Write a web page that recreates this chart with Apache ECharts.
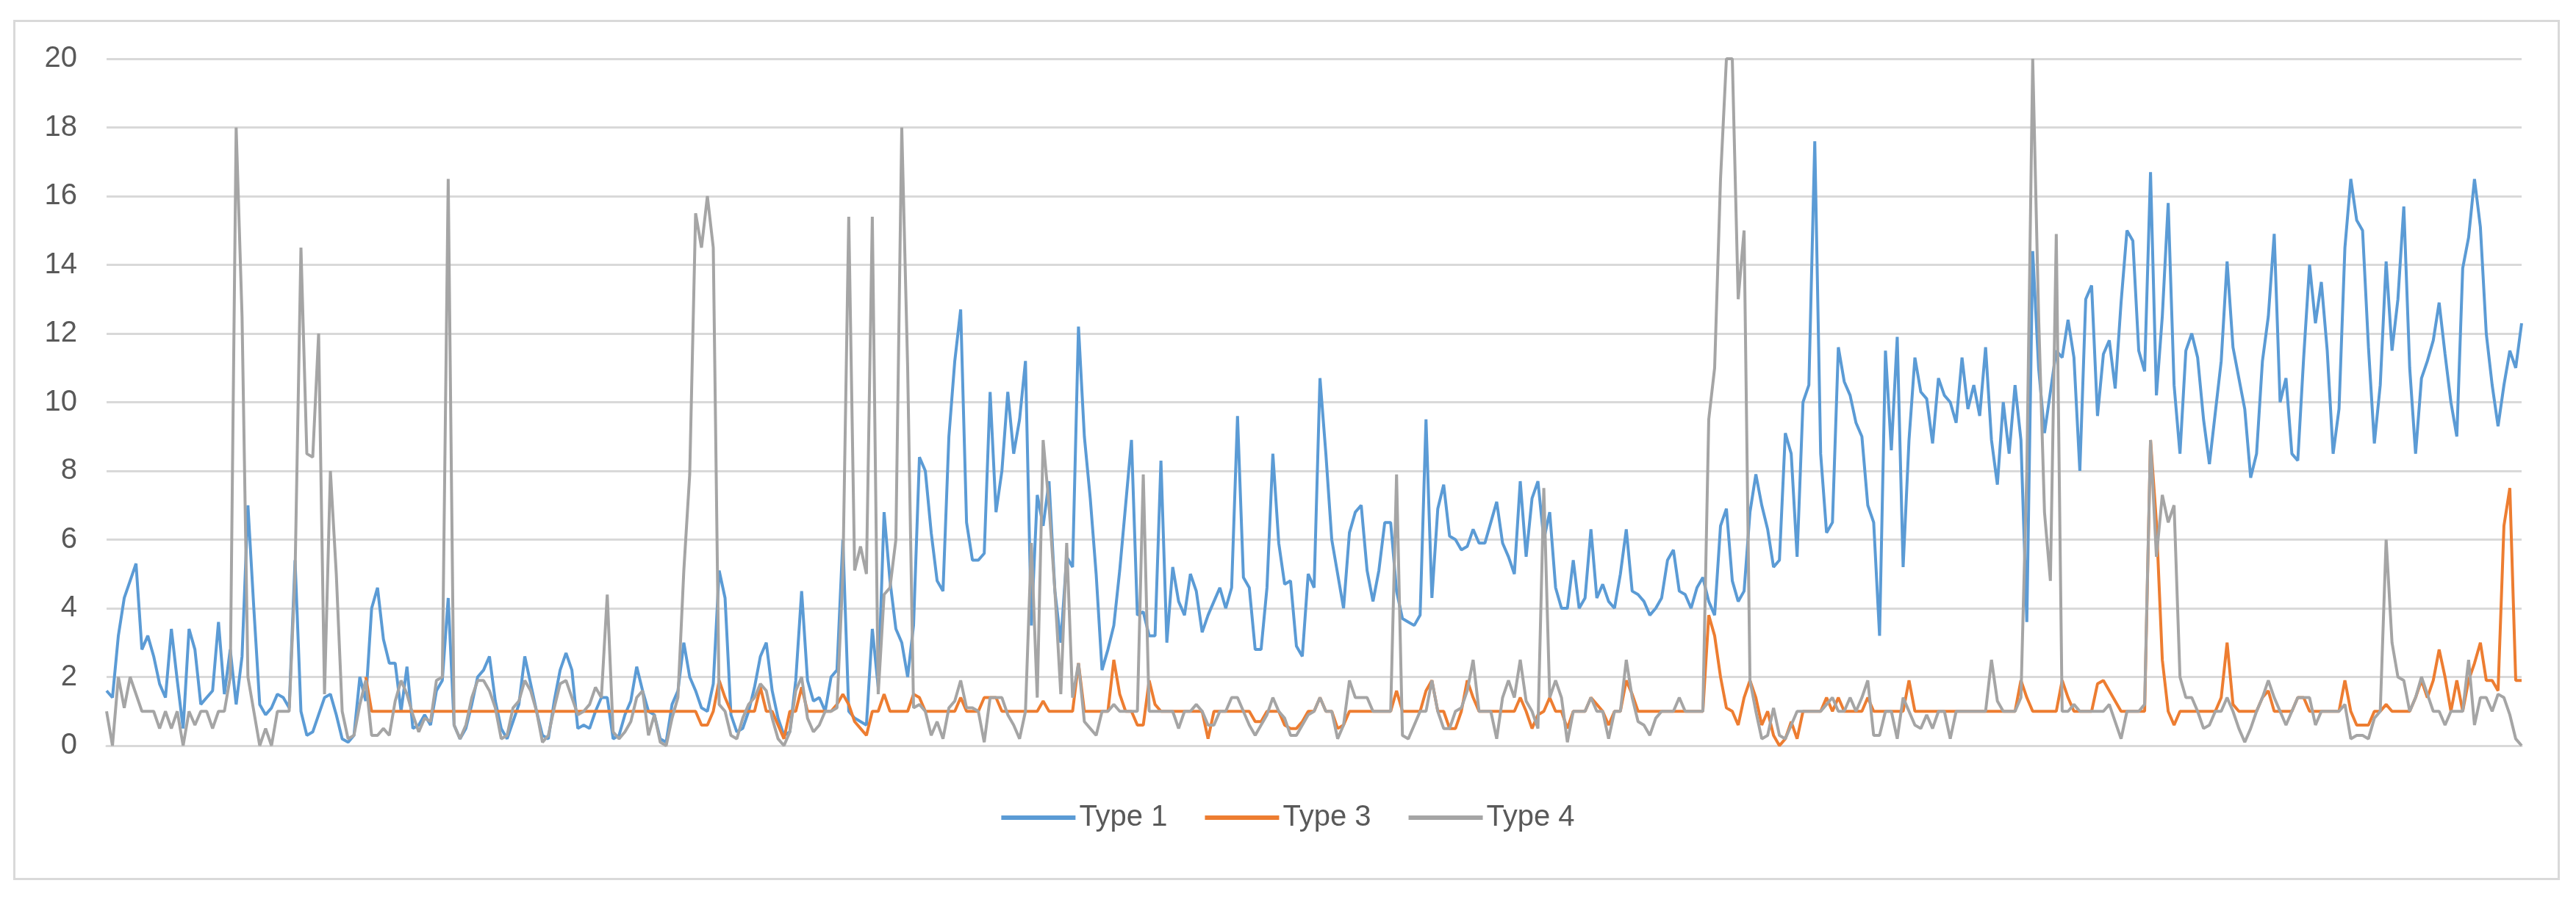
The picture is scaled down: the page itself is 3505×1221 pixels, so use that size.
<!DOCTYPE html>
<html><head><meta charset="utf-8">
<script src="https://cdn.jsdelivr.net/npm/echarts@6/dist/echarts.min.js"></script>
<style>
html,body{margin:0;padding:0;background:#fff;}
#frame{position:absolute;left:18px;top:27px;width:3459px;height:1165px;border:3px solid #d9d9d9;}
#chart{position:absolute;left:0;top:0;width:3505px;height:1221px;}
</style></head>
<body>
<div id="frame"></div>
<div id="chart"></div>
<script>
const seriesNames = ['Type 1', 'Type 3', 'Type 4'];
const yTicks = { min: 0, max: 20, step: 2 };

const type1 = [
1.6,1.4,3.2,4.3,4.8,5.3,2.8,3.2,2.6,1.8,
1.4,3.4,1.9,0.5,3.4,2.8,1.2,1.4,1.6,3.6,
1.5,2.8,1.2,2.6,7.0,4.0,1.2,0.9,1.1,1.5,
1.4,1.1,5.4,1.0,0.3,0.4,0.9,1.4,1.5,0.9,
0.2,0.1,0.3,2.0,1.3,4.0,4.6,3.1,2.4,2.4,
1.0,2.3,0.5,0.6,0.9,0.6,1.6,1.9,4.3,0.6,
0.2,0.5,1.2,2.0,2.2,2.6,1.3,0.5,0.2,0.7,
1.2,2.6,1.8,1.0,0.3,0.2,1.3,2.2,2.7,2.2,
0.5,0.6,0.5,1.0,1.4,1.4,0.2,0.3,0.9,1.3,
2.3,1.6,1.0,0.9,0.2,0.1,1.2,1.6,3.0,2.0,
1.6,1.1,1.0,1.8,5.1,4.3,0.9,0.4,0.5,1.0,
1.7,2.6,3.0,1.6,0.8,0.3,0.4,1.9,4.5,1.9,
1.3,1.4,1.0,2.0,2.2,6.0,1.0,0.8,0.7,0.6,
3.4,1.7,6.8,4.8,3.4,3.0,2.0,3.5,8.4,8.0,
6.2,4.8,4.5,9.0,11.2,12.7,6.5,5.4,5.4,5.6,
10.3,6.8,8.0,10.3,8.5,9.5,11.2,3.5,7.3,6.4,
7.7,4.5,3.0,5.5,5.2,12.2,9.0,7.2,5.0,2.2,
2.8,3.5,5.1,7.0,8.9,3.8,3.9,3.2,3.2,8.3,
3.0,5.2,4.2,3.8,5.0,4.5,3.3,3.8,4.2,4.6,
4.0,4.6,9.6,4.9,4.6,2.8,2.8,4.6,8.5,5.9,
4.7,4.8,2.9,2.6,5.0,4.6,10.7,8.5,6.0,5.0,
4.0,6.2,6.8,7.0,5.1,4.2,5.1,6.5,6.5,4.5,
3.7,3.6,3.5,3.8,9.5,4.3,6.9,7.6,6.1,6.0,
5.7,5.8,6.3,5.9,5.9,6.5,7.1,5.9,5.5,5.0,
7.7,5.5,7.2,7.7,6.0,6.8,4.6,4.0,4.0,5.4,
4.0,4.3,6.3,4.3,4.7,4.2,4.0,5.0,6.3,4.5,
4.4,4.2,3.8,4.0,4.3,5.4,5.7,4.5,4.4,4.0,
4.6,4.9,4.2,3.8,6.4,6.9,4.8,4.2,4.5,6.8,
7.9,7.0,6.3,5.2,5.4,9.1,8.5,5.5,10.0,10.5,
17.6,8.5,6.2,6.5,11.6,10.6,10.2,9.4,9.0,7.0,
6.5,3.2,11.5,8.6,11.9,5.2,8.9,11.3,10.3,10.1,
8.8,10.7,10.2,10.0,9.4,11.3,9.8,10.5,9.6,11.6,
8.9,7.6,10.0,8.5,10.5,8.9,3.6,14.4,11.0,9.1,
10.3,11.5,11.3,12.4,11.3,8.0,13.0,13.4,9.6,11.4,
11.8,10.4,12.9,15.0,14.7,11.5,10.9,16.7,10.2,12.5,
15.8,10.5,8.5,11.5,12.0,11.3,9.5,8.2,9.7,11.2,
14.1,11.6,10.7,9.8,7.8,8.5,11.2,12.5,14.9,10.0,
10.7,8.5,8.3,11.3,14.0,12.3,13.5,11.5,8.5,9.8,
14.5,16.5,15.3,15.0,11.6,8.8,10.5,14.1,11.5,13.0,
15.7,11.0,8.5,10.7,11.2,11.8,12.9,11.4,10.0,9.0,
13.9,14.8,16.5,15.1,12.0,10.5,9.3,10.5,11.5,11.0,12.3
];

const type3 = [
null,null,null,null,null,null,null,null,null,null,
null,null,null,null,null,null,null,null,null,null,
null,null,null,null,null,null,null,null,null,null,
null,null,null,null,null,null,null,null,null,null,
null,null,null,null,2.0,1,1,1,1,1,
1,1,1,1,1,1,1,1,1,1,
1,1,1,1,1,1,1,1,1,1,
1,1,1,1,1,1,1,1,1,1,
1,1,1,1,1,1,1,1,1,1,
1,1,1,1,1,1,1,1,1,1,
1,0.6,0.6,1,1.9,1.4,1,1,1,1,
1,1.7,1,1,0.6,0.2,1,1,1.7,1,
1,1,1,1,1.2,1.5,1.2,0.7,0.5,0.3,
1,1,1.5,1,1,1,1,1.5,1.4,1,
1,1,1,1,1,1.4,1,1,1,1.4,
1.4,1.4,1,1,1,1,1,1,1,1.3,
1,1,1,1,1,2.4,1,1,1,1,
1,2.5,1.5,1,1,0.6,0.6,1.9,1.2,1,
1,1,1,1,1,1,1,0.2,1,1,
1,1,1,1,1,0.7,0.7,1,1,1,
0.6,0.5,0.5,0.7,1,1,1.4,1,1,0.5,
0.6,1,1,1,1,1,1,1,1,1.6,
1,1,1,1,1.6,1.9,1,1,0.5,0.5,
1,1.9,1.4,1,1,1,1,1,1,1,
1.4,1,0.5,0.9,1,1.4,1,1,0.5,1,
1,1,1.4,1.2,1,0.6,1,1,1.9,1.5,
1,1,1,1,1,1,1,1,1,1,
1,1,3.8,3.2,2.0,1.1,1,0.6,1.4,1.9,
1.4,0.6,1,0.3,0,0.2,0.7,0.2,1,1,
1,1,1.4,1,1.4,1,1,1,1,1.4,
1,1,1,1,1,1,1.9,1,1,1,
1,1,1,1,1,1,1,1,1,1,
1,1,1,1,1,1.9,1.4,1,1,1,
1,1,1.9,1.4,1,1,1,1,1.8,1.9,
1.6,1.3,1,1,1,1,1,8.9,6.5,2.5,
1,0.6,1,1,1,1,1,1,1,1.4,
3.0,1.2,1,1,1,1,1.4,1.6,1,1,
1,1,1.4,1.4,1,1,1,1,1,1,
1.9,1,0.6,0.6,0.6,1,1,1.2,1,1,
1,1,1.4,1.9,1.4,1.9,2.8,2.0,1,1.9,
1,1.9,2.4,3.0,1.9,1.9,1.6,6.4,7.5,1.9,1.9
];

const type4 = [
1.0,0,2.0,1.1,2.0,1.5,1.0,1.0,1.0,0.5,
1.0,0.5,1.0,0,1.0,0.6,1.0,1.0,0.5,1.0,
1.0,2.0,18.0,12.5,2.0,1.0,0,0.5,0,1.0,
1.0,1.0,5.0,14.5,8.5,8.4,12.0,1.5,8.0,5.0,
1.0,0.2,0.3,1.2,1.9,0.3,0.3,0.5,0.3,1.3,
1.9,1.5,0.9,0.4,0.8,0.7,1.9,2.0,16.5,0.6,
0.2,0.6,1.4,1.9,1.9,1.6,1.1,0.2,0.3,1.1,
1.3,1.9,1.6,1.0,0.1,0.3,1.1,1.8,1.9,1.4,
0.9,1.0,1.2,1.7,1.4,4.4,0.4,0.2,0.4,0.7,
1.4,1.6,0.3,0.9,0.1,0,0.8,1.4,5.1,7.9,
15.5,14.5,16.0,14.5,1.2,1.0,0.3,0.2,0.8,1.2,
1.4,1.8,1.6,0.8,0.2,0,0.4,1.6,2.0,0.8,
0.4,0.6,1.0,1.0,1.1,5.0,15.4,5.1,5.8,5.0,
15.4,1.5,4.4,4.6,6.0,18.0,11.0,1.1,1.2,1.0,
0.3,0.7,0.2,1.1,1.3,1.9,1.1,1.1,1.0,0.1,
1.4,1.4,1.4,0.9,0.6,0.2,1.0,5.9,1.4,8.9,
7.0,4.5,1.5,5.9,1.4,2.4,0.7,0.5,0.3,1.0,
1.0,1.2,1.0,1.0,1.0,1.0,7.9,1.0,1.0,1.0,
1.0,1.0,0.5,1.0,1.0,1.2,1.0,0.6,0.6,1.0,
1.0,1.4,1.4,1.0,0.6,0.3,0.6,0.9,1.4,1.0,
0.8,0.3,0.3,0.6,0.9,1.0,1.4,1.0,1.0,0.2,
0.6,1.9,1.4,1.4,1.4,1.0,1.0,1.0,1.0,7.9,
0.3,0.2,0.6,1.0,1.0,1.9,1.0,0.5,0.5,1.0,
1.1,1.6,2.5,1.0,1.0,1.0,0.2,1.4,1.9,1.4,
2.5,1.3,1.0,0.5,7.5,1.4,1.9,1.4,0.1,1.0,
1.0,1.0,1.4,1.0,1.0,0.2,1.0,1.0,2.5,1.4,
0.7,0.6,0.3,0.8,1.0,1.0,1.0,1.4,1.0,1.0,
1.0,1.0,9.5,11.0,16.5,20,20,13.0,15.0,1.9,
1.0,0.2,0.3,1.1,0.3,0.2,0.6,1.0,1.0,1.0,
1.0,1.0,1.2,1.4,1.0,1.0,1.4,1.0,1.4,1.9,
0.3,0.3,1.0,1.0,0.2,1.4,1.0,0.6,0.5,0.9,
0.5,1.0,1.0,0.2,1.0,1.0,1.0,1.0,1.0,1.0,
2.5,1.3,1.0,1.0,1.0,1.4,8.0,20,12.5,6.8,
4.8,14.9,1.0,1.0,1.2,1.0,1.0,1.0,1.0,1.0,
1.2,0.7,0.2,1.0,1.0,1.0,1.2,8.9,5.5,7.3,
6.5,7.0,2.0,1.4,1.4,1.0,0.5,0.6,1.0,1.0,
1.4,1.0,0.5,0.1,0.5,1.0,1.4,1.9,1.4,1.0,
0.6,1.0,1.4,1.4,1.4,0.6,1.0,1.0,1.0,1.0,
1.2,0.2,0.3,0.3,0.2,0.8,1.0,6.0,3.0,2.0,
1.9,1.0,1.4,2.0,1.5,1.0,1.0,0.6,1.0,1.0,
1.0,2.5,0.6,1.4,1.4,1.0,1.5,1.4,0.9,0.2,0
];

const categories = type1.map((_, i) => String(i + 1));

const FONT = '"Liberation Sans", Arial, sans-serif';
const colors = ['#5B9BD5', '#ED7D31', '#A5A5A5'];
const seriesData = [type1, type3, type4];

const chart = echarts.init(document.getElementById('chart'), null, { renderer: 'canvas' });
chart.setOption({
  animation: false,
  backgroundColor: 'transparent',
  color: colors,
  grid: { left: 145, right: 74, top: 80, bottom: 206, containLabel: false },
  legend: {
    data: seriesNames,
    left: 'center',
    top: 1088,
    icon: 'rect',
    itemWidth: 101,
    itemHeight: 6,
    itemGap: 51,
    textStyle: { fontSize: 40, color: '#595959', fontFamily: FONT }
  },
  xAxis: {
    type: 'category',
    data: categories,
    boundaryGap: false,
    axisLine: { show: true, lineStyle: { color: '#d9d9d9', width: 3 } },
    axisTick: { show: false },
    axisLabel: { show: false },
    splitLine: { show: false }
  },
  yAxis: {
    type: 'value',
    min: yTicks.min,
    max: yTicks.max,
    interval: yTicks.step,
    axisLine: { show: false },
    axisTick: { show: false },
    axisLabel: { fontSize: 40, color: '#595959', margin: 40, fontFamily: FONT },
    splitLine: { lineStyle: { color: '#d9d9d9', width: 3 } }
  },
  series: seriesNames.map((name, k) => ({
    name: name,
    type: 'line',
    data: seriesData[k],
    symbol: 'none',
    showSymbol: false,
    connectNulls: false,
    lineStyle: { width: 4, color: colors[k] },
    itemStyle: { color: colors[k] },
    emphasis: { disabled: true }
  }))
});
</script>
</body></html>
